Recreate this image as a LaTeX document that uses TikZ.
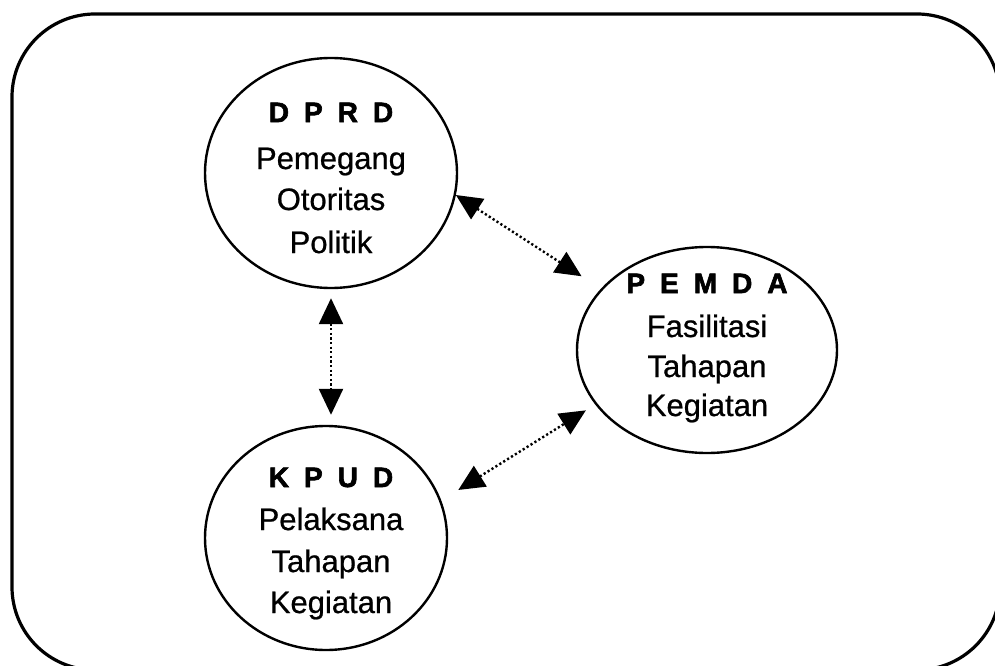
\documentclass[tikz,border=0pt]{standalone}
\usepackage{fontspec}
\setmainfont{Liberation Sans}[FakeBold=0.7]
\newfontfamily\heavyfont{Liberation Sans}[BoldFeatures={FakeBold=2.2}]
\usetikzlibrary{shapes.geometric,arrows.meta}
\newcommand{\gapped}{\hspace{15pt}}
\begin{document}
\begin{tikzpicture}[x=1pt,y=-1pt,
  frame/.style={line width=3.2pt, rounded corners=83pt},
  party/.style={ellipse, draw, line width=2.4pt, inner sep=0pt},
  ttl/.style={anchor=base, inner sep=0pt, font=\heavyfont\fontsize{28}{28}\selectfont\bfseries},
  txt/.style={anchor=base, inner sep=0pt, font=\fontsize{31}{31}\selectfont},
  link/.style={line width=2.4pt, dash pattern=on 2.2pt off 2.4pt, {Triangle[length=26pt,width=24pt]}-{Triangle[length=26pt,width=24pt]}}
]
\useasboundingbox (0,0) rectangle (995,666);
\fill[white] (0,0) rectangle (995,666);
\draw[frame] (12,14) rectangle (1000,670);

% the three institutions
\node[party, minimum width=252pt, minimum height=230pt] (dprd) at (331,173) {};
\node[party, minimum width=260pt, minimum height=206pt] (pemda) at (707,350) {};
\node[party, minimum width=242pt, minimum height=224pt] (kpud) at (326,538) {};

% DPRD
\node[ttl] (dprdA) at (331,122) {D\gapped P\gapped R\gapped D};
\node[txt] (dprdB) at (331,169) {Pemegang};
\node[txt] (dprdC) at (331,210) {Otoritas};
\node[txt] (dprdD) at (331,253) {Politik};

% PEMDA
\node[ttl] (pemdaA) at (707,293) {P\gapped E\gapped M\gapped D\gapped A};
\node[txt] (pemdaB) at (707,337) {Fasilitasi};
\node[txt] (pemdaC) at (707,377) {Tahapan};
\node[txt] (pemdaD) at (707,416) {Kegiatan};

% KPUD
\node[ttl] (kpudA) at (331,487) {K\gapped P\gapped U\gapped D};
\node[txt] (kpudB) at (331,530) {Pelaksana};
\node[txt] (kpudC) at (331,572) {Tahapan};
\node[txt] (kpudD) at (331,613) {Kegiatan};

% two-way relations
\draw[link, shorten >=23pt] (dprd.-10) -- (pemda.150);
\draw[link, shorten <=9pt, shorten >=10pt] (dprd.south) -- (dprd.south |- kpud.north);
\draw[link, shorten <=20pt, shorten >=11pt] (kpud.18) -- (pemda.206);
\end{tikzpicture}
\end{document}
